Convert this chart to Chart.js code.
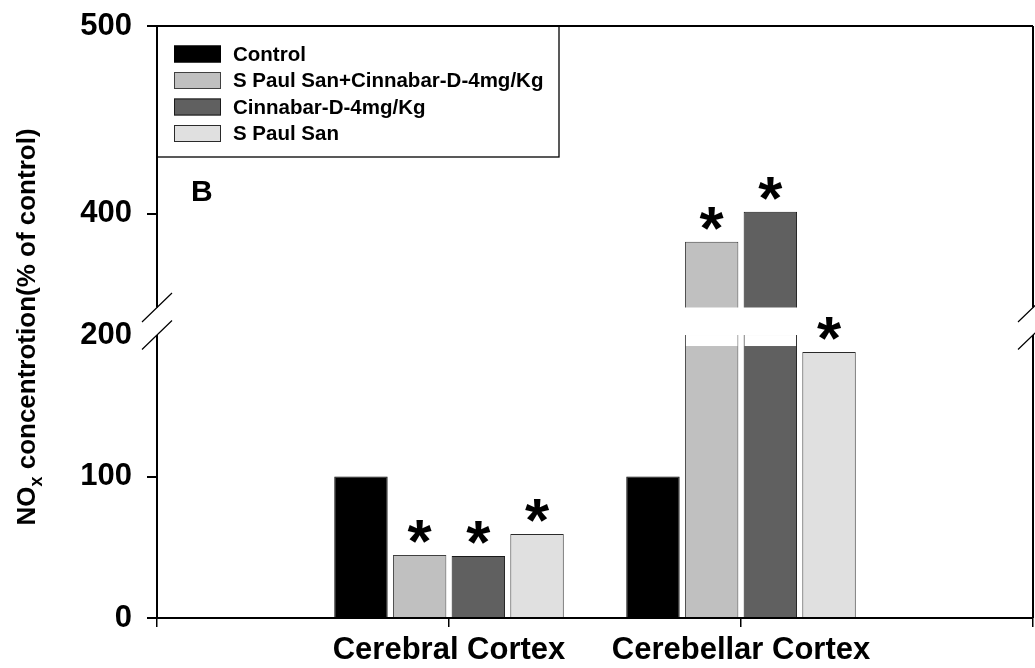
<!DOCTYPE html>
<html>
<head>
<meta charset="utf-8">
<script src="https://cdn.jsdelivr.net/npm/chart.js@4.4.1/dist/chart.umd.min.js"></script>
<style>
  html, body { margin: 0; padding: 0; background: #fff; }
  #wrap { width: 1035px; height: 668px; }
</style>
</head>
<body>
<div id="wrap"><canvas id="chart" width="1035" height="668"></canvas></div>
<script>
// Data
const categories = ['Cerebral Cortex', 'Cerebellar Cortex'];
const seriesLabels = ['Control', 'S Paul San+Cinnabar-D-4mg/Kg', 'Cinnabar-D-4mg/Kg', 'S Paul San'];
const controlValues = [100, 100];
const spsCinnabarValues = [44.5, 385];
const cinnabarValues = [43.8, 401];
const spsValues = [59.4, 188];
// significance markers (*)
const controlStars = [false, false];
const spsCinnabarStars = [true, true];
const cinnabarStars = [true, true];
const spsStars = [true, true];

const yTickValues = [0, 100, 200, 400, 500];
const yBreak = [200, 350]; // values skipped by the axis break

const fillColors = ['#000000', '#c0c0c0', '#606060', '#e0e0e0'];
const borderColors = ['#000000', '#404040', '#1a1a1a', '#2a2a2a'];
const FONT = '"Liberation Sans", Arial, Helvetica, sans-serif';

// where the break sits on the axis (fraction of axis height)
const BREAK_LO = 0.478;
const BREAK_HI = 0.5245;

// Linear scale with a gap between yBreak[0] and yBreak[1]
class BrokenLinearScale extends Chart.LinearScale {
  static id = 'brokenLinear';
  _toDecimal(v) {
    const [lo, hi] = yBreak;
    if (v <= lo) return (v - this.min) / (lo - this.min) * BREAK_LO;
    if (v >= hi) return BREAK_HI + (v - hi) / (this.max - hi) * (1 - BREAK_HI);
    return BREAK_LO + (v - lo) / (hi - lo) * (BREAK_HI - BREAK_LO);
  }
  getPixelForValue(value) {
    if (value === null || value === undefined || isNaN(value)) return NaN;
    return this.getPixelForDecimal(this._toDecimal(value));
  }
  getValueForPixel(pixel) {
    const d = this.getDecimalForPixel(pixel);
    const [lo, hi] = yBreak;
    if (d <= BREAK_LO) return this.min + d / BREAK_LO * (lo - this.min);
    if (d >= BREAK_HI) return hi + (d - BREAK_HI) / (1 - BREAK_HI) * (this.max - hi);
    return lo + (d - BREAK_LO) / (BREAK_HI - BREAK_LO) * (hi - lo);
  }
}
Chart.register(BrokenLinearScale);

// empty slots at both ends so the categories sit at 1/3 and 2/3 of the axis
const pad = arr => [null, ...arr, null];
const allValues = [controlValues, spsCinnabarValues, cinnabarValues, spsValues];
const allStars = [controlStars, spsCinnabarStars, cinnabarStars, spsStars];

const datasets = seriesLabels.map((label, i) => ({
  label,
  data: pad(allValues[i]),
  stars: pad(allStars[i]),
  backgroundColor: fillColors[i],
  borderColor: borderColors[i],
  borderWidth: 1,
  categoryPercentage: 0.804,
  barPercentage: 0.91
}));

const decorPlugin = {
  id: 'decor',
  afterDatasetsDraw(chart) {
    const { ctx, chartArea } = chart;
    const y = chart.scales.y;
    const pLo = y.getPixelForValue(yBreak[0]);
    const pHi = y.getPixelForValue(yBreak[1]);

    // white band across the break
    ctx.save();
    ctx.fillStyle = '#fff';
    ctx.fillRect(chartArea.left + 1, pHi, chartArea.right - chartArea.left - 2, pLo - pHi);

    // lower stub of broken bars is left open just below the break
    chart.data.datasets.forEach((ds, di) => {
      const meta = chart.getDatasetMeta(di);
      meta.data.forEach((bar, i) => {
        if (ds.data[i] !== null && ds.data[i] > yBreak[1]) {
          ctx.fillRect(bar.x - bar.width / 2 + 1, pLo, bar.width - 2, 11);
        }
      });
    });

    // asterisks
    ctx.fillStyle = '#000';
    ctx.font = 'bold 62px ' + FONT;
    ctx.textAlign = 'center';
    ctx.textBaseline = 'alphabetic';
    const m = ctx.measureText('*');
    chart.data.datasets.forEach((ds, di) => {
      const meta = chart.getDatasetMeta(di);
      meta.data.forEach((bar, i) => {
        if (!ds.stars[i]) return;
        const center = bar.y - 23.5;
        const base = center + (m.actualBoundingBoxAscent - m.actualBoundingBoxDescent) / 2;
        ctx.fillText('*', bar.x, base);
      });
    });
    ctx.restore();
  },
  afterDraw(chart) {
    const { ctx, chartArea } = chart;
    const y = chart.scales.y;
    const pLo = y.getPixelForValue(yBreak[0]);
    const pHi = y.getPixelForValue(yBreak[1]);
    const L = chartArea.left, R = chartArea.right, T = chartArea.top, B = chartArea.bottom;

    ctx.save();
    ctx.strokeStyle = '#000';
    ctx.lineWidth = 2;
    ctx.beginPath();
    // top frame
    ctx.moveTo(L - 1, T); ctx.lineTo(R, T);
    // left axis with break
    ctx.moveTo(L, T); ctx.lineTo(L, pHi);
    ctx.moveTo(L, pLo); ctx.lineTo(L, B);
    // right frame with break
    ctx.moveTo(R, T); ctx.lineTo(R, pHi);
    ctx.moveTo(R, pLo); ctx.lineTo(R, B);
    ctx.stroke();

    // break marks
    ctx.lineWidth = 1.2;
    ctx.beginPath();
    [L, R].forEach(x => {
      [pHi, pLo].forEach(py => {
        ctx.moveTo(x - 15, py + 14.5);
        ctx.lineTo(x + 15, py - 14.5);
      });
    });
    ctx.stroke();

    // legend box
    ctx.lineWidth = 1.3;
    ctx.strokeRect(L, T, 402, 131);
    ctx.font = 'bold 20.5px ' + FONT;
    ctx.textAlign = 'left';
    ctx.textBaseline = 'middle';
    chart.data.datasets.forEach((ds, i) => {
      const ry = T + 28 + i * 26.5;
      ctx.fillStyle = ds.backgroundColor;
      ctx.fillRect(174, ry - 8.5, 47, 17);
      ctx.lineWidth = 1;
      ctx.strokeStyle = ds.borderColor;
      ctx.strokeRect(174.5, ry - 8, 46, 16);
      ctx.fillStyle = '#000';
      ctx.fillText(ds.label, 233, ry + 1);
    });

    // panel letter
    ctx.font = 'bold 30px ' + FONT;
    ctx.textBaseline = 'alphabetic';
    ctx.fillText('B', 191, 201);

    // y title with subscript
    ctx.translate(28, 327);
    ctx.rotate(-Math.PI / 2);
    const big = 'bold 26px ' + FONT;
    const small = 'bold 18px ' + FONT;
    const t1 = 'NO', t2 = 'x', t3 = ' concentrotion(% of control)';
    ctx.font = big;
    const w1 = ctx.measureText(t1).width, w3 = ctx.measureText(t3).width;
    ctx.font = small;
    const w2 = ctx.measureText(t2).width;
    let x0 = -(w1 + w2 + w3) / 2;
    ctx.textBaseline = 'middle';
    ctx.font = big;
    ctx.fillText(t1, x0, 0);
    ctx.font = small;
    ctx.fillText(t2, x0 + w1, 9);
    ctx.font = big;
    ctx.fillText(t3, x0 + w1 + w2, 0);
    ctx.restore();
  }
};

new Chart(document.getElementById('chart'), {
  type: 'bar',
  data: { labels: pad(categories).map(c => c || ''), datasets },
  options: {
    responsive: false,
    devicePixelRatio: 1,
    animation: false,
    layout: { padding: { left: 0, top: 26, right: 2, bottom: 0 } },
    plugins: { legend: { display: false }, tooltip: { enabled: false } },
    scales: {
      x: {
        type: 'category',
        offset: false,
        afterFit: s => { s.height = 50; s.paddingLeft = 0; s.paddingRight = 0; },
        grid: { offset: false, drawOnChartArea: false, drawTicks: true, tickLength: 9, color: '#000', lineWidth: 1.5 },
        border: { display: true, color: '#000', width: 2 },
        ticks: { color: '#000', font: { family: FONT, size: 31, weight: 'bold' }, padding: 5, maxRotation: 0, autoSkip: false }
      },
      y: {
        type: 'brokenLinear',
        min: 0,
        max: 500,
        afterBuildTicks: s => { s.ticks = yTickValues.map(v => ({ value: v })); },
        afterFit: s => { s.width = 157; s.paddingTop = 0; s.paddingBottom = 0; },
        grid: {
          drawOnChartArea: false,
          drawTicks: true,
          tickLength: 10,
          lineWidth: 2,
          color: c => (c.tick && c.tick.value === yBreak[0]) ? 'rgba(0,0,0,0)' : '#000'
        },
        border: { display: false },
        ticks: { color: '#000', font: { family: FONT, size: 31, weight: 'bold' }, padding: 15 }
      }
    }
  },
  plugins: [decorPlugin]
});
</script>
</body>
</html>
